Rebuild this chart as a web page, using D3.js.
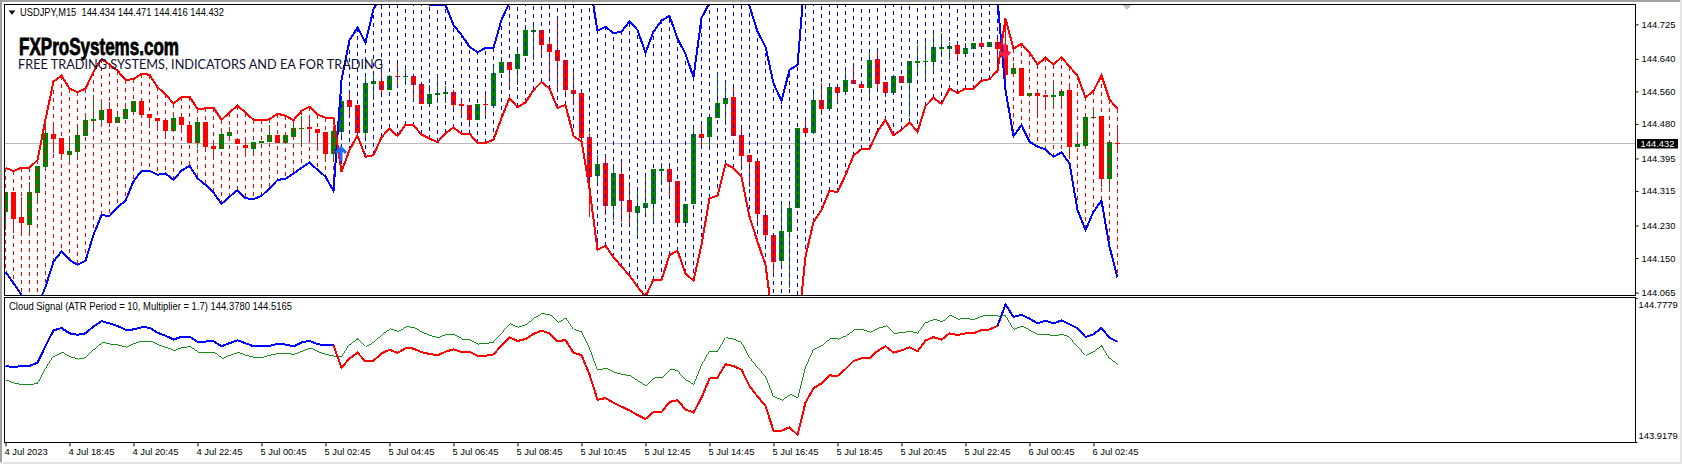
<!DOCTYPE html>
<html>
<head>
<meta charset="utf-8">
<script src="https://d3js.org/d3.v7.min.js"></script>
<style>
  html, body { margin: 0; background: #fff; overflow: hidden; }
  text { font-family: "Liberation Sans", sans-serif; fill: #000; }
  .tick text { font-size: 9.4px; }
  .tick line { stroke: #000; }
</style>
</head>
<body>
<div id="chart"></div>
<script>
// USDJPY M15
const opens = [
144.262,144.312,144.250,144.232,144.311,144.375,144.455,144.445,144.403,144.412,
144.451,144.489,144.490,144.517,144.482,144.492,144.510,144.536,144.504,144.495,
144.490,144.463,144.497,144.477,144.433,144.485,144.426,144.419,144.451,144.442,
144.428,144.417,144.433,144.435,144.453,144.433,144.448,144.467,144.472,144.467,
144.460,144.406,144.460,144.539,144.526,144.458,144.578,144.586,144.563,144.598,
144.595,144.598,144.578,144.529,144.551,144.553,144.558,144.529,144.526,144.490,
144.529,144.524,144.605,144.632,144.615,144.647,144.706,144.711,144.676,144.662,
144.637,144.563,144.556,144.448,144.352,144.384,144.278,144.357,144.293,144.261,
144.273,144.283,144.364,144.369,144.339,144.236,144.283,144.455,144.448,144.494,
144.529,144.546,144.453,144.403,144.389,144.256,144.207,144.142,144.214,144.273,
144.470,144.458,144.539,144.517,144.571,144.558,144.588,144.578,144.568,144.640,
144.583,144.556,144.598,144.581,144.630,144.632,144.632,144.666,144.664,144.674,
144.652,144.664,144.679,144.668,144.682,144.674,144.603,144.617,144.549,144.556,
144.550,144.546,144.549,144.563,144.424,144.426,144.494,144.499,144.344,144.434];
const highs = [
144.312,144.312,144.301,144.338,144.376,144.494,144.481,144.445,144.449,144.473,
144.506,144.551,144.531,144.535,144.510,144.531,144.536,144.536,144.504,144.495,
144.490,144.506,144.497,144.477,144.490,144.485,144.436,144.461,144.473,144.442,
144.440,144.435,144.438,144.477,144.453,144.453,144.481,144.499,144.498,144.467,
144.460,144.469,144.547,144.559,144.526,144.604,144.604,144.613,144.600,144.637,
144.621,144.598,144.578,144.576,144.592,144.572,144.563,144.539,144.526,144.529,
144.551,144.625,144.645,144.632,144.662,144.723,144.727,144.711,144.695,144.737,
144.637,144.608,144.556,144.457,144.403,144.403,144.381,144.391,144.338,144.325,
144.350,144.369,144.383,144.379,144.339,144.283,144.473,144.481,144.497,144.598,
144.588,144.572,144.477,144.403,144.389,144.268,144.207,144.285,144.285,144.470,
144.498,144.565,144.580,144.570,144.571,144.621,144.629,144.578,144.654,144.658,
144.583,144.598,144.598,144.635,144.674,144.682,144.703,144.703,144.682,144.674,
144.678,144.679,144.695,144.682,144.696,144.735,144.629,144.617,144.556,144.556,
144.550,144.588,144.561,144.578,144.461,144.497,144.518,144.499,144.435,144.471];
const lows = [
144.219,144.211,144.211,144.207,144.293,144.375,144.408,144.395,144.385,144.399,
144.451,144.469,144.477,144.473,144.482,144.492,144.510,144.494,144.469,144.465,
144.444,144.463,144.457,144.433,144.420,144.420,144.395,144.419,144.440,144.431,
144.408,144.408,144.433,144.435,144.433,144.433,144.448,144.432,144.440,144.424,
144.395,144.395,144.444,144.498,144.453,144.440,144.539,144.551,144.563,144.572,
144.580,144.539,144.529,144.529,144.531,144.531,144.510,144.502,144.473,144.490,
144.498,144.524,144.605,144.567,144.576,144.647,144.637,144.649,144.592,144.563,
144.547,144.526,144.445,144.252,144.330,144.256,144.243,144.239,144.235,144.198,
144.252,144.243,144.330,144.301,144.236,144.227,144.283,144.424,144.420,144.494,
144.477,144.450,144.367,144.325,144.231,144.194,144.104,144.125,144.075,144.273,
144.458,144.458,144.502,144.517,144.539,144.558,144.578,144.568,144.547,144.563,
144.547,144.556,144.581,144.498,144.600,144.588,144.613,144.645,144.637,144.641,
144.652,144.664,144.669,144.668,144.604,144.600,144.603,144.549,144.549,144.494,
144.521,144.522,144.522,144.395,144.424,144.426,144.494,144.325,144.313,144.416];
const closes = [
144.312,144.247,144.237,144.312,144.376,144.457,144.444,144.407,144.413,144.453,
144.489,144.492,144.514,144.483,144.497,144.517,144.536,144.502,144.494,144.488,
144.463,144.494,144.477,144.433,144.485,144.424,144.419,144.455,144.460,144.431,
144.421,144.435,144.438,144.453,144.433,144.453,144.470,144.470,144.467,144.458,
144.406,144.462,144.536,144.522,144.458,144.581,144.586,144.563,144.598,144.595,
144.598,144.576,144.529,144.553,144.556,144.558,144.526,144.524,144.490,144.529,
144.526,144.605,144.632,144.613,144.652,144.711,144.711,144.674,144.657,144.635,
144.563,144.553,144.445,144.349,144.381,144.278,144.359,144.290,144.263,144.278,
144.285,144.369,144.369,144.337,144.236,144.283,144.455,144.445,144.497,144.531,
144.544,144.450,144.401,144.386,144.258,144.207,144.140,144.216,144.273,144.470,
144.458,144.539,144.517,144.570,144.556,144.588,144.578,144.568,144.637,144.578,
144.556,144.598,144.581,144.635,144.635,144.635,144.669,144.669,144.672,144.652,
144.667,144.679,144.669,144.682,144.664,144.600,144.617,144.549,144.556,144.549,
144.546,144.550,144.561,144.424,144.431,144.497,144.498,144.344,144.435,144.432];

// Cloud Signal buffers
const signalLine = [
144.372,144.364,144.372,144.372,144.391,144.491,144.584,144.599,144.567,144.558,
144.567,144.608,144.640,144.626,144.611,144.588,144.590,144.603,144.601,144.570,
144.553,144.530,144.546,144.547,144.517,144.518,144.520,144.490,144.508,144.525,
144.508,144.490,144.490,144.491,144.505,144.500,144.489,144.512,144.522,144.503,
144.495,144.495,144.362,144.416,144.451,144.399,144.403,144.447,144.469,144.450,
144.478,144.476,144.454,144.444,144.435,144.457,144.471,144.456,144.456,144.433,
144.433,144.441,144.494,144.544,144.521,144.533,144.563,144.583,144.567,144.519,
144.527,144.450,144.437,144.321,144.170,144.180,144.152,144.129,144.107,144.079,
144.055,144.097,144.096,144.157,144.168,144.112,144.094,144.182,144.297,144.303,
144.382,144.371,144.350,144.252,144.190,144.133,143.985,143.985,144.006,143.960,
144.153,144.239,144.268,144.316,144.312,144.354,144.402,144.418,144.419,144.461,
144.490,144.452,144.465,144.484,144.460,144.524,144.544,144.529,144.567,144.556,
144.567,144.567,144.586,144.590,144.611,144.739,144.665,144.677,144.655,144.626,
144.643,144.626,144.644,144.621,144.598,144.545,144.561,144.599,144.540,144.5165];
const stopLine = [
144.116,144.088,144.059,144.030,144.030,144.079,144.141,144.166,144.145,144.133,
144.143,144.207,144.256,144.253,144.275,144.291,144.339,144.364,144.365,144.355,
144.358,144.342,144.365,144.377,144.346,144.330,144.311,144.283,144.301,144.317,
144.297,144.295,144.303,144.321,144.342,144.345,144.358,144.372,144.385,144.367,
144.350,144.315,144.588,144.686,144.717,144.680,144.762,144.800,144.830,144.840,
144.850,144.850,144.820,144.772,144.772,144.773,144.723,144.699,144.670,144.656,
144.667,144.667,144.736,144.778,144.800,144.820,144.840,144.860,144.870,144.880,
144.860,144.840,144.830,144.830,144.709,144.719,144.703,144.707,144.732,144.711,
144.655,144.707,144.734,144.746,144.690,144.652,144.595,144.740,144.778,144.830,
144.850,144.840,144.810,144.770,144.707,144.670,144.580,144.536,144.613,144.625,
144.860,144.880,144.900,144.900,144.900,144.900,144.900,144.900,144.900,144.900,
144.900,144.900,144.900,144.900,144.900,144.900,144.900,144.900,144.900,144.880,
144.870,144.850,144.840,144.820,144.785,144.563,144.450,144.477,144.436,144.424,
144.417,144.399,144.410,144.383,144.268,144.219,144.264,144.291,144.178,144.102];
const midLine = [
144.288,144.268,144.262,144.262,144.268,144.358,144.431,144.453,144.427,144.413,
144.423,144.473,144.513,144.503,144.497,144.485,144.507,144.521,144.521,144.499,
144.483,144.465,144.483,144.487,144.455,144.455,144.453,144.417,144.437,144.453,
144.435,144.423,144.423,144.437,144.447,144.447,144.441,144.461,144.479,144.457,
144.441,144.431,144.427,144.503,144.537,144.489,144.517,144.561,144.595,144.577,
144.607,144.601,144.573,144.553,144.541,144.561,144.557,144.533,144.527,144.503,
144.507,144.515,144.567,144.623,144.603,144.621,144.660,144.686,144.676,144.632,
144.660,144.591,144.573,144.477,144.348,144.358,144.334,144.322,144.314,144.282,
144.252,144.300,144.306,144.352,144.344,144.288,144.258,144.378,144.461,144.461,
144.541,144.531,144.511,144.423,144.363,144.308,144.188,144.168,144.202,144.178,
144.363,144.473,144.497,144.537,144.533,144.553,144.587,144.591,144.573,144.597,
144.611,144.567,144.571,144.579,144.567,144.632,144.650,144.636,144.676,144.652,
144.654,144.650,144.670,144.674,144.670,144.672,144.591,144.609,144.583,144.557,
144.561,144.551,144.561,144.541,144.487,144.436,144.461,144.495,144.414,144.378];

// bars where the trend flips and the arrow is drawn
const flipBars = [42, 125];
const flipPrices = [144.421, 144.645];

const mainTicks = [144.725, 144.640, 144.560, 144.480, 144.395, 144.315, 144.230, 144.150, 144.065];
const subTicks = [144.7779, 143.9179];
const lastPrice = 144.432;
const timeBars = [0, 8, 16, 24, 32, 40, 48, 56, 64, 72, 80, 88, 96, 104, 112, 120, 128, 136];
const timeLabels = ["4 Jul 2023", "4 Jul 18:45", "4 Jul 20:45", "4 Jul 22:45", "5 Jul 00:45", "5 Jul 02:45",
  "5 Jul 04:45", "5 Jul 06:45", "5 Jul 08:45", "5 Jul 10:45", "5 Jul 12:45", "5 Jul 14:45", "5 Jul 16:45",
  "5 Jul 18:45", "5 Jul 20:45", "5 Jul 22:45", "6 Jul 00:45", "6 Jul 02:45"];

const width = 1682;
const height = 465;
const left = 4.5, right = 1635.5;
const mainTop = 4.5, mainBottom = 295.5, subTop = 297.5, subBottom = 442.5;

const bars = d3.range(closes.length);
const x = d3.scaleLinear().domain([0, closes.length - 1]).range([5.5, 1117.5]);
const yMain = d3.scaleLinear().domain([144.775, 144.0577]).range([4, 295.5]);
const ySub = d3.scaleLinear().domain([144.7779, 143.9179]).range([298, 442]);

const RED = "#ff0000", BLUE = "#0000ff", GREEN = "#008000";
const isUp = (i) => closes[i] > opens[i];
const isBlueCloud = (i) => i >= flipBars[0] && i < flipBars[1];

const svg = d3.select("#chart").append("svg").attr("width", width).attr("height", height);

// window edges
svg.append("rect").attr("width", width).attr("height", height).attr("fill", "#fff");
svg.append("rect").attr("width", width).attr("height", 2).attr("fill", "#a0a0a0");
svg.append("rect").attr("y", 0).attr("width", 2).attr("height", 462).attr("fill", "#a0a0a0");
svg.append("rect").attr("y", 462).attr("width", width).attr("height", 2).attr("fill", "#e4e4e4");
svg.append("rect").attr("x", 1680).attr("width", 2).attr("height", 463).attr("fill", "#e4e4e4");

const defs = svg.append("defs");
defs.append("clipPath").attr("id", "clip-main").append("rect")
  .attr("x", left).attr("y", mainTop).attr("width", right - left).attr("height", mainBottom - mainTop);
defs.append("clipPath").attr("id", "clip-sub").append("rect")
  .attr("x", left).attr("y", subTop).attr("width", right - left).attr("height", subBottom - subTop);

const main = svg.append("g").attr("clip-path", "url(#clip-main)");
const sub = svg.append("g").attr("clip-path", "url(#clip-sub)");

// current price line
main.append("line")
  .attr("x1", left).attr("x2", right)
  .attr("y1", Math.round(yMain(lastPrice)) + 0.5).attr("y2", Math.round(yMain(lastPrice)) + 0.5)
  .attr("stroke", "#b8b8b8");

// candles
const candles = main.append("g").attr("shape-rendering", "crispEdges");
candles.selectAll("line").data(bars).join("line")
  .attr("x1", (i) => x(i)).attr("x2", (i) => x(i))
  .attr("y1", (i) => yMain(highs[i])).attr("y2", (i) => yMain(lows[i]))
  .attr("stroke", (i) => (isUp(i) ? GREEN : RED));
candles.selectAll("rect").data(bars).join("rect")
  .attr("x", (i) => x(i) - 2.5).attr("width", 5)
  .attr("y", (i) => yMain(Math.max(opens[i], closes[i])))
  .attr("height", (i) => Math.max(1.5, Math.abs(yMain(opens[i]) - yMain(closes[i]))))
  .attr("fill", (i) => (isUp(i) ? GREEN : RED));

// dashed cloud between the two lines
main.append("g").attr("shape-rendering", "crispEdges")
  .selectAll("line").data(bars).join("line")
  .attr("x1", (i) => x(i)).attr("x2", (i) => x(i))
  .attr("y1", (i) => yMain(signalLine[i])).attr("y2", (i) => yMain(stopLine[i]))
  .attr("stroke", (i) => (isBlueCloud(i) ? BLUE : RED))
  .attr("stroke-dasharray", "4,4");

const lineMain = (values) => d3.line().x((d, i) => x(i)).y((d) => yMain(d))(values);
main.append("path").attr("d", lineMain(stopLine)).attr("fill", "none")
  .attr("stroke", BLUE).attr("stroke-width", 2).attr("shape-rendering", "crispEdges");
main.append("path").attr("d", lineMain(signalLine)).attr("fill", "none")
  .attr("stroke", RED).attr("stroke-width", 2).attr("shape-rendering", "crispEdges");

// flip arrows
const arrowUp = d3.path();
arrowUp.moveTo(-5, 5); arrowUp.lineTo(0, 0); arrowUp.lineTo(5, 5);
arrowUp.moveTo(0, 0); arrowUp.lineTo(0, 13);
const arrowDown = d3.path();
arrowDown.moveTo(-5, -5); arrowDown.lineTo(0, 0); arrowDown.lineTo(5, -5);
arrowDown.moveTo(0, 0); arrowDown.lineTo(0, -13);
main.append("path").attr("d", arrowUp.toString())
  .attr("transform", `translate(${x(flipBars[0]) - 0.5},${yMain(flipPrices[0])})`)
  .attr("fill", "none").attr("stroke", "#1e6cff").attr("stroke-width", 3);
main.append("path").attr("d", arrowDown.toString())
  .attr("transform", `translate(${x(flipBars[1]) - 0.5},${yMain(flipPrices[1])})`)
  .attr("fill", "none").attr("stroke", "#ff1f4c").attr("stroke-width", 3);

// sub window lines
const lineSub = d3.line().x((d) => x(d)).y((d) => ySub(signalLine[d]));
sub.append("path")
  .attr("d", d3.line().x((d, i) => x(i)).y((d) => ySub(d))(midLine))
  .attr("fill", "none").attr("stroke", GREEN).attr("stroke-width", 0.9).attr("shape-rendering", "crispEdges");
[
  [bars.slice(0, flipBars[0]), BLUE],
  [bars.slice(flipBars[0] - 1, flipBars[1]), RED],
  [bars.slice(flipBars[1] - 1), BLUE],
].forEach(([part, colour]) => {
  sub.append("path").attr("d", lineSub(part)).attr("fill", "none")
    .attr("stroke", colour).attr("stroke-width", 2).attr("shape-rendering", "crispEdges");
});

// frames
const frames = svg.append("g").attr("fill", "none").attr("stroke", "#000").attr("shape-rendering", "crispEdges");
frames.append("rect").attr("x", left).attr("y", mainTop).attr("width", right - left).attr("height", mainBottom - mainTop);
frames.append("rect").attr("x", left).attr("y", subTop).attr("width", right - left).attr("height", subBottom - subTop);

// price axes
const axisMain = d3.axisRight(yMain).tickValues(mainTicks).tickFormat(d3.format(".3f")).tickSize(3).tickPadding(3);
const gMain = svg.append("g").attr("transform", `translate(${right},0)`).call(axisMain);
gMain.select(".domain").remove();

const axisSub = d3.axisRight(ySub).tickValues(subTicks).tickFormat(d3.format(".4f")).tickSize(2).tickPadding(1);
const gSub = svg.append("g").attr("transform", `translate(${right},0)`).call(axisSub);
gSub.select(".domain").remove();
gSub.selectAll(".tick text").attr("y", (d, i) => (i === 0 ? 6 : -7));

// last price tag
svg.append("rect").attr("x", 1637).attr("y", 139).attr("width", 41).attr("height", 9.5).attr("fill", "#000");
svg.append("text").attr("x", 1640.5).attr("y", 147).attr("font-size", 9.4).style("fill", "#fff").text(lastPrice.toFixed(3));

// time axis
const axisTime = d3.axisBottom(x).tickValues(timeBars).tickFormat((d, i) => timeLabels[i]).tickSize(4).tickPadding(2);
const gTime = svg.append("g").attr("transform", `translate(0,${subBottom})`).call(axisTime);
gTime.select(".domain").remove();
gTime.selectAll(".tick text").attr("text-anchor", "start").attr("x", -1.5);

// header texts
svg.append("path").attr("d", "M8.5,10.5H15.5L12,14.8Z").attr("fill", "#000");
svg.append("text").attr("x", 20).attr("y", 16).attr("font-size", 10).attr("xml:space", "preserve")
  .attr("textLength", 204).attr("lengthAdjust", "spacingAndGlyphs")
  .text("USDJPY,M15  144.434 144.471 144.416 144.432");
svg.append("path").attr("d", "M1122.5,5H1131.5L1127,10Z").attr("fill", "#c0c0c0");
svg.append("text").attr("x", 9).attr("y", 310).attr("font-size", 10)
  .attr("textLength", 283).attr("lengthAdjust", "spacingAndGlyphs")
  .text("Cloud Signal (ATR Period = 10, Multiplier = 1.7) 144.3780 144.5165");

// logo
svg.append("text").attr("x", 19).attr("y", 55)
  .attr("textLength", 160).attr("lengthAdjust", "spacingAndGlyphs")
  .style("font-family", "'Liberation Sans Narrow','Liberation Sans',sans-serif")
  .style("font-weight", "bold").style("font-size", "23px")
  .style("stroke", "#000").style("stroke-width", 0.8)
  .text("FXProSystems.com");
svg.append("text").attr("x", 18).attr("y", 69)
  .attr("textLength", 365).attr("lengthAdjust", "spacingAndGlyphs")
  .style("font-family", "'Lato',sans-serif").style("font-size", "12.5px").style("fill", "#101030")
  .text("FREE TRADING SYSTEMS, INDICATORS AND EA FOR TRADING");
</script>
</body>
</html>
